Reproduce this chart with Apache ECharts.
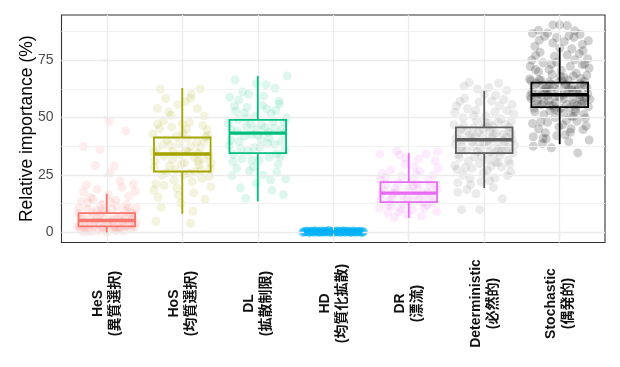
<!DOCTYPE html>
<html>
<head>
<meta charset="utf-8">
<script src="https://cdn.jsdelivr.net/npm/echarts@6/dist/echarts.min.js"></script>
<style>
html,body{margin:0;padding:0;background:#fff;}
#chart{width:620px;height:367px;}
</style>
</head>
<body>
<div id="chart"></div>
<script>
// ---------- data ----------
const categories = ['HeS', 'HoS', 'DL', 'HD', 'DR', 'Deterministic', 'Stochastic'];
const categoriesJa = ['(異質選択)', '(均質選択)', '(拡散制限)', '(均質化拡散)', '(漂流)', '(必然的)', '(偶発的)'];
const yTicks = [0, 25, 50, 75];
const yMinorTicks = [12.5, 37.5, 62.5, 87.5];
const xTicks = [0, 1, 2, 3, 4, 5, 6];
const yAxisTitle = 'Relative importance (%)';

// boxplot statistics per category
const boxMin    = [0.0,  8.1, 13.5, 0.0,  6.3, 19.3, 38.4];
const boxQ1     = [2.6, 26.5, 34.5, 0.0, 13.2, 34.5, 54.5];
const boxMedian = [5.2, 34.1, 43.2, 0.2, 17.1, 40.3, 59.9];
const boxQ3     = [8.4, 41.3, 49.0, 0.4, 21.9, 45.7, 65.2];
const boxMax    = [16.8, 62.8, 68.1, 0.8, 34.5, 61.6, 80.4];

// jittered points: [horizontal jitter (category units), value %]
const pointsHeS = [[-0.35,1.2],[-0.28,3.5],[-0.2,0.4],[-0.12,6.1],[-0.05,2.2],[0.03,4.8],[0.11,0.9],[0.19,7.3],[0.27,2.9],[0.34,5.5],
[-0.38,8.2],[-0.3,0.3],[-0.23,4.1],[-0.14,9.6],[-0.06,1.7],[0.06,3.2],[0.14,11.4],[0.22,0.6],[0.3,6.8],[0.37,2.4],
[-0.33,5.9],[-0.25,12.8],[-0.17,2.8],[-0.09,7.7],[0.0,0.2],[0.08,5.1],[0.16,3.9],[0.24,9.1],[0.32,1.5],[0.39,10.6],
[-0.36,3.0],[-0.26,10.2],[-0.18,14.5],[-0.1,4.4],[-0.02,8.9],[0.05,13.2],[0.13,1.1],[0.21,4.6],[0.29,15.8],[0.36,7.9],
[-0.31,17.5],[-0.21,6.4],[-0.08,11.9],[0.1,2.0],[0.26,12.2],[0.38,17.9],
[-0.27,20.6],[0.18,22.4],[0.04,25.8],[-0.15,29.1],[0.35,21.0],[-0.31,37.4],[0.25,44.2],[0.03,48.3],[-0.09,36.0],[0.1,28.9],
[-0.39,2.6],[-0.32,6.9],[-0.24,1.0],[-0.16,4.7],[-0.07,9.3],[0.01,3.7],[0.09,7.0],[0.17,1.9],[0.25,5.8],[0.33,3.4],
[-0.37,10.9],[-0.29,2.1],[-0.19,8.5],[-0.11,0.7],[-0.03,5.6],[0.07,10.0],[0.15,6.2],[0.23,2.7],[0.31,8.7],[0.39,4.2],
[-0.34,13.6],[-0.22,15.1],[0.02,16.4],[0.12,14.0],[0.28,11.0],[-0.13,18.8],[0.2,19.6],[-0.04,12.5]];
const pointsHoS = [[-0.37,28.5],[-0.3,45.2],[-0.24,33.1],[-0.18,52.4],[-0.11,22.7],[-0.04,38.6],[0.03,30.2],[0.1,47.9],[0.17,26.4],[0.24,36.8],[0.31,41.5],[0.38,19.8],
[-0.34,36.1],[-0.27,24.9],[-0.2,40.3],[-0.13,31.7],[-0.06,55.6],[0.01,43.4],[0.08,34.9],[0.15,17.2],[0.22,29.4],[0.29,50.7],[0.36,33.3],
[-0.39,42.8],[-0.32,15.4],[-0.25,48.6],[-0.16,37.9],[-0.09,27.3],[0.05,35.7],[0.12,60.1],[0.19,39.2],[0.26,23.5],[0.33,44.6],
[-0.35,21.1],[-0.22,58.3],[-0.14,45.9],[-0.02,12.6],[0.09,25.8],[0.2,53.9],[0.28,32.0],[0.37,27.7],
[-0.28,11.0],[-0.07,19.3],[0.14,9.2],[0.3,14.3],[-0.29,62.3],[0.24,62.5],[-0.33,54.0],[0.0,47.2],[0.11,58.4],
[-0.35,4.8],[0.11,4.0],[-0.38,35.0],[0.07,40.8],[-0.03,33.8],[0.21,30.9],
[-0.36,31.2],[-0.26,38.1],[-0.17,28.9],[-0.08,41.9],[0.02,25.2],[0.11,37.3],[0.2,34.4],[0.29,39.7],[0.38,30.0],
[-0.33,47.1],[-0.21,26.0],[-0.12,35.5],[-0.01,29.8],[0.06,44.9],[0.16,32.7],[0.25,27.1],[0.34,42.2],
[-0.38,18.4],[-0.15,51.0],[0.04,56.9],[0.27,46.5],[-0.24,20.5],[0.13,22.0],[0.36,24.3],[-0.05,16.1]];
const pointsDL = [[-0.36,40.2],[-0.29,52.7],[-0.22,36.4],[-0.15,46.1],[-0.08,31.5],[-0.01,44.9],[0.06,55.3],[0.13,38.7],[0.2,48.2],[0.27,29.6],[0.34,43.0],
[-0.39,47.5],[-0.32,33.9],[-0.25,57.6],[-0.18,41.8],[-0.11,26.7],[-0.04,50.4],[0.03,37.1],[0.1,45.6],[0.17,22.8],[0.24,53.1],[0.31,39.5],[0.38,49.8],
[-0.34,24.6],[-0.27,44.0],[-0.2,61.2],[-0.13,35.2],[0.0,42.3],[0.08,59.4],[0.15,32.6],[0.22,45.2],[0.29,55.9],[0.36,36.0],
[-0.37,58.8],[-0.23,19.4],[-0.06,28.4],[0.11,64.3],[0.25,26.1],[0.34,16.4],[-0.3,66.4],[0.39,68.1],[-0.16,14.9],[0.18,51.6],
[-0.09,47.0],[0.04,40.6],[-0.26,49.1],[0.3,33.0],[-0.02,21.3],[0.14,43.7],[-0.14,54.5],[0.23,62.7],[-0.33,30.8],
[-0.35,44.8],[-0.25,39.6],[-0.15,49.7],[-0.05,36.9],[0.05,46.8],[0.15,41.1],[0.25,34.1],[0.35,47.9],
[-0.38,37.7],[-0.28,27.9],[-0.18,51.9],[-0.08,42.7],[0.02,31.3],[0.12,53.8],[0.22,38.3],[0.32,45.0],
[-0.31,55.0],[-0.12,60.2],[0.07,25.0],[0.28,57.1],[-0.21,32.0],[0.19,18.3],[0.37,23.2],[-0.02,64.9]];
const pointsHD = [[-0.4,0.1],[-0.38,0.4],[-0.36,0.2],[-0.34,0.6],[-0.32,0.0],[-0.3,0.3],[-0.28,0.5],[-0.26,0.1],[-0.24,0.7],[-0.22,0.2],
[-0.2,0.4],[-0.18,0.0],[-0.16,0.6],[-0.14,0.3],[-0.12,0.1],[-0.1,0.5],[-0.08,0.2],[-0.06,0.8],[-0.04,0.0],[-0.02,0.4],
[0.0,0.3],[0.02,0.1],[0.04,0.6],[0.06,0.2],[0.08,0.5],[0.1,0.0],[0.12,0.4],[0.14,0.7],[0.16,0.1],[0.18,0.3],
[0.2,0.5],[0.22,0.2],[0.24,0.0],[0.26,0.6],[0.28,0.3],[0.3,0.1],[0.32,0.4],[0.34,0.2],[0.36,0.5],[0.38,0.0],[0.4,0.3]];
const pointsDR = [[-0.37,14.2],[-0.3,20.8],[-0.23,11.5],[-0.16,17.6],[-0.09,24.3],[-0.02,15.1],[0.05,9.7],[0.12,19.4],[0.19,13.0],[0.26,22.7],[0.33,16.3],[0.39,27.9],
[-0.35,25.6],[-0.28,8.4],[-0.21,16.9],[-0.14,21.5],[-0.07,12.3],[0.0,18.8],[0.07,28.6],[0.14,14.7],[0.21,10.6],[0.28,19.9],[0.35,31.2],
[-0.38,34.1],[-0.26,13.8],[-0.12,33.8],[0.03,22.1],[0.17,7.1],[0.31,12.7],[-0.33,18.2],[-0.19,6.5],[-0.05,29.7],[0.09,16.0],[0.23,34.1],[0.37,9.2],
[-0.24,27.0],[0.1,25.2],[-0.1,10.1],[0.25,17.3],[-0.38,22.9],[0.36,20.4],[-0.16,35.5],[0.38,35.2],[-0.02,7.8],[0.13,31.9],
[-0.36,17.1],[-0.27,12.0],[-0.18,19.0],[-0.08,15.9],[0.02,13.5],[0.11,21.2],[0.2,16.8],[0.29,14.1],[0.38,18.6],
[-0.31,23.8],[-0.13,9.0],[0.06,20.0],[0.24,11.9],[-0.22,14.9],[0.15,26.5],[0.33,24.8],[-0.04,32.3],[-0.39,10.6]];
const pointsDeterministic = [[-0.38,38.2],[-0.31,44.9],[-0.24,35.6],[-0.17,41.3],[-0.1,48.7],[-0.03,33.1],[0.04,39.8],[0.11,46.2],[0.18,30.4],[0.25,42.7],[0.32,36.9],[0.39,51.5],
[-0.36,27.4],[-0.29,40.1],[-0.22,53.8],[-0.15,37.3],[-0.08,43.6],[-0.01,25.9],[0.06,47.4],[0.13,34.2],[0.2,55.1],[0.27,39.0],[0.34,29.8],
[-0.4,46.8],[-0.33,32.5],[-0.26,58.4],[-0.19,23.4],[-0.12,41.9],[-0.05,36.4],[0.02,50.6],[0.09,28.7],[0.16,43.1],[0.23,35.3],[0.3,61.8],[0.37,40.5],
[-0.35,21.6],[-0.28,49.9],[-0.21,31.2],[-0.14,45.5],[-0.07,56.7],[0.0,38.9],[0.07,22.5],[0.14,52.3],[0.21,33.7],[0.28,47.0],[0.35,26.3],
[-0.37,55.0],[-0.23,18.6],[-0.09,62.4],[0.05,31.8],[0.19,64.9],[0.33,44.0],[-0.3,36.0],[-0.16,27.9],[-0.02,42.1],[0.12,19.5],[0.26,57.8],[0.38,34.6],
[-0.27,63.6],[-0.11,16.8],[0.03,45.9],[0.17,37.6],[0.31,24.7],[-0.34,43.3],[0.1,40.7],[-0.2,65.3],[0.24,14.6],[-0.06,30.0],[0.36,48.3],
[-0.3,9.9],[-0.06,9.9],[0.15,59.7],[-0.39,29.0],[0.08,35.1],[0.29,41.4],
[-0.37,41.0],[-0.3,37.4],[-0.23,44.1],[-0.16,39.5],[-0.09,35.2],[-0.02,45.3],[0.05,38.0],[0.12,42.6],[0.19,36.2],[0.26,40.0],[0.33,45.7],[0.4,37.9],
[-0.34,34.0],[-0.27,46.4],[-0.2,42.3],[-0.13,32.9],[-0.06,39.1],[0.01,47.9],[0.08,43.9],[0.15,30.6],[0.22,49.3],[0.29,35.9],[0.36,43.0],
[-0.39,52.2],[-0.25,28.2],[-0.11,53.1],[0.04,26.8],[0.18,48.1],[0.32,31.4],[-0.32,57.0],[-0.18,20.7],[0.0,60.1],[0.14,23.6],[0.3,53.0],
[-0.28,25.0],[-0.04,22.0],[0.1,57.2],[0.23,28.4],[0.37,55.6],[-0.14,50.9],[0.06,63.0],[-0.35,17.5]];
const pointsStochastic = [[-0.38,58.2],[-0.31,64.9],[-0.24,55.6],[-0.17,61.3],[-0.1,68.7],[-0.03,53.1],[0.04,59.8],[0.11,66.2],[0.18,50.4],[0.25,62.7],[0.32,56.9],[0.39,71.5],
[-0.36,47.4],[-0.29,60.1],[-0.22,73.8],[-0.15,57.3],[-0.08,63.6],[-0.01,45.9],[0.06,67.4],[0.13,54.2],[0.2,75.1],[0.27,59.0],[0.34,49.8],
[-0.4,66.8],[-0.33,52.5],[-0.26,78.4],[-0.19,43.4],[-0.12,61.9],[-0.05,56.4],[0.02,70.6],[0.09,48.7],[0.16,63.1],[0.23,55.3],[0.3,81.8],[0.37,60.5],
[-0.35,41.6],[-0.28,69.9],[-0.21,51.2],[-0.14,65.5],[-0.07,76.7],[0.0,58.9],[0.07,42.5],[0.14,72.3],[0.21,53.7],[0.28,67.0],[0.35,46.3],
[-0.37,75.0],[-0.23,38.6],[-0.09,82.4],[0.05,51.8],[0.19,84.9],[0.33,64.0],[-0.3,56.0],[-0.16,47.9],[-0.02,62.1],[0.12,39.5],[0.26,77.8],[0.38,54.6],
[-0.27,83.6],[-0.11,36.8],[0.03,65.9],[0.17,57.6],[0.31,44.7],[-0.34,63.3],[0.1,60.7],[-0.2,85.3],[0.24,34.6],[-0.06,50.0],[0.36,68.3],
[-0.39,59.4],[-0.13,55.2],[0.08,64.4],[0.22,61.6],[-0.25,66.1],[0.29,57.1],[-0.04,74.0],[0.15,45.1],[-0.32,70.9],[0.01,54.0],[-0.18,62.8],[0.33,73.3],
[-0.09,90.3],[0.0,90.3],[0.1,90.0],[0.27,86.2],[-0.36,86.6],[0.39,40.2],[-0.22,40.9],[0.16,79.9],
[-0.37,61.0],[-0.3,57.4],[-0.23,64.1],[-0.16,59.5],[-0.09,55.2],[-0.02,65.3],[0.05,58.0],[0.12,62.6],[0.19,56.2],[0.26,60.0],[0.33,65.7],[0.4,57.9],
[-0.34,54.0],[-0.27,66.4],[-0.2,62.3],[-0.13,52.9],[-0.06,59.1],[0.01,67.9],[0.08,63.9],[0.15,50.6],[0.22,69.3],[0.29,55.9],[0.36,63.0],
[-0.39,72.2],[-0.25,48.2],[-0.11,73.1],[0.04,46.8],[0.18,68.1],[0.32,51.4],[-0.32,77.0],[-0.18,40.7],[0.0,80.1],[0.14,43.6],[0.3,73.0],
[-0.28,45.0],[-0.04,42.0],[0.1,77.2],[0.23,48.4],[0.37,75.6],[-0.14,70.9],[0.06,83.0],[-0.35,37.5],
[-0.21,56.6],[0.17,61.8],[-0.07,53.6],[0.27,64.7],[-0.38,66.0],[0.09,55.7],[-0.24,59.8],[0.35,58.5],[-0.12,64.6],[0.21,52.5],
[-0.33,81.0],[0.31,79.0],[-0.16,86.8],[0.2,87.7],[0.38,83.4],[-0.28,88.0],[0.12,85.5],[-0.04,84.8]];
const pointGroups = [pointsHeS, pointsHoS, pointsDL, pointsHD, pointsDR, pointsDeterministic, pointsStochastic];

// ---------- styles ----------
const pointColors = ['#F8766D', '#A3A500', '#00BF7D', '#00B0F6', '#E76BF3', '#808080', '#1a1a1a'];
const pointOpacity = [0.13, 0.13, 0.13, 0.55, 0.13, 0.16, 0.2];
const boxColors = ['#F8766D', '#A3A500', '#00BF7D', '#00B0F6', '#E76BF3', '#5E5E5E', '#000000'];

const chart = echarts.init(document.getElementById('chart'), null, {renderer: 'canvas'});

const series = [];
// grid lines
series.push({
  type: 'scatter', data: [], silent: true, z: 0,
  markLine: {
    silent: true, symbol: 'none', animation: false, label: {show: false},
    data: [
      ...yMinorTicks.map(v => ({yAxis: v, lineStyle: {color: '#F0F0F0', width: 0.9, type: 'solid'}})),
      ...yTicks.map(v => ({yAxis: v, lineStyle: {color: '#EBEBEB', width: 1.3, type: 'solid'}})),
      ...xTicks.map(v => ({xAxis: v, lineStyle: {color: '#EBEBEB', width: 1.3, type: 'solid'}}))
    ]
  }
});
pointGroups.forEach((pts, i) => {
  series.push({
    type: 'scatter', z: 2, silent: true, animation: false,
    symbol: 'circle', symbolSize: 9,
    itemStyle: {color: pointColors[i], opacity: pointOpacity[i]},
    data: pts.map(p => [i + p[0], p[1]])
  });
});
series.push({
  type: 'custom', z: 5, silent: true, animation: false,
  encode: {x: 0, y: [1, 2, 3, 4, 5]},
  data: categories.map((c, i) => [i, boxMin[i], boxQ1[i], boxMedian[i], boxQ3[i], boxMax[i]]),
  renderItem: function (params, api) {
    const i = params.dataIndex;
    const x = api.value(0);
    const col = boxColors[i];
    const tl = api.coord([x - 0.375, api.value(4)]);
    const br = api.coord([x + 0.375, api.value(2)]);
    const mL = api.coord([x - 0.375, api.value(3)]);
    const mR = api.coord([x + 0.375, api.value(3)]);
    const wTop = api.coord([x, api.value(5)]);
    const wBot = api.coord([x, api.value(1)]);
    const q3 = api.coord([x, api.value(4)]);
    const q1 = api.coord([x, api.value(2)]);
    const lw = 1.8;
    return {
      type: 'group',
      children: [
        {type: 'line', shape: {x1: wTop[0], y1: wTop[1], x2: q3[0], y2: q3[1]}, style: {stroke: col, lineWidth: lw}},
        {type: 'line', shape: {x1: q1[0], y1: q1[1], x2: wBot[0], y2: wBot[1]}, style: {stroke: col, lineWidth: lw}},
        {type: 'rect', shape: {x: tl[0], y: tl[1], width: br[0] - tl[0], height: br[1] - tl[1]}, style: {fill: 'none', stroke: col, lineWidth: lw}},
        {type: 'line', shape: {x1: mL[0], y1: mL[1], x2: mR[0], y2: mR[1]}, style: {stroke: col, lineWidth: 3.4}}
      ]
    };
  }
});

const option = {
  animation: false,
  backgroundColor: '#ffffff',
  grid: {left: 61.5, right: 15, top: 15, bottom: 124.5, show: true, borderColor: '#333333', borderWidth: 1.1, backgroundColor: 'transparent', containLabel: false},
  xAxis: {
    type: 'value', min: -0.6, max: 6.6,
    axisLine: {show: false},
    splitLine: {show: false},
    axisTick: {show: true, length: 4, customValues: xTicks, lineStyle: {color: '#333333', width: 1.1}},
    axisLabel: {
      show: true, customValues: xTicks, rotate: 90, margin: 61,
      align: 'center', verticalAlign: 'middle',
      formatter: function (v) { const k = Math.round(v); return '{b|' + categories[k] + '}\n{b|' + categoriesJa[k] + '}'; },
      rich: {b: {fontFamily: '"Liberation Sans", Arial, "Noto Sans CJK JP", sans-serif', fontWeight: 'bold', fontSize: 14, lineHeight: 17, color: '#111111', align: 'center'}}
    }
  },
  yAxis: {
    type: 'value', min: -4.4, max: 94.6,
    name: yAxisTitle, nameLocation: 'middle', nameRotate: 90, nameGap: 25, nameMoveOverlap: false,
    nameTextStyle: {fontFamily: '"Liberation Sans", Arial, sans-serif', fontSize: 17.5, color: '#000000'},
    axisLine: {show: false},
    splitLine: {show: false},
    axisTick: {show: true, length: 4, customValues: yTicks, lineStyle: {color: '#333333', width: 1.1}},
    axisLabel: {show: true, customValues: yTicks, margin: 8, fontFamily: '"Liberation Sans", Arial, sans-serif', fontSize: 14, color: '#4D4D4D'}
  },
  series: series
};
chart.setOption(option);
</script>
</body>
</html>
